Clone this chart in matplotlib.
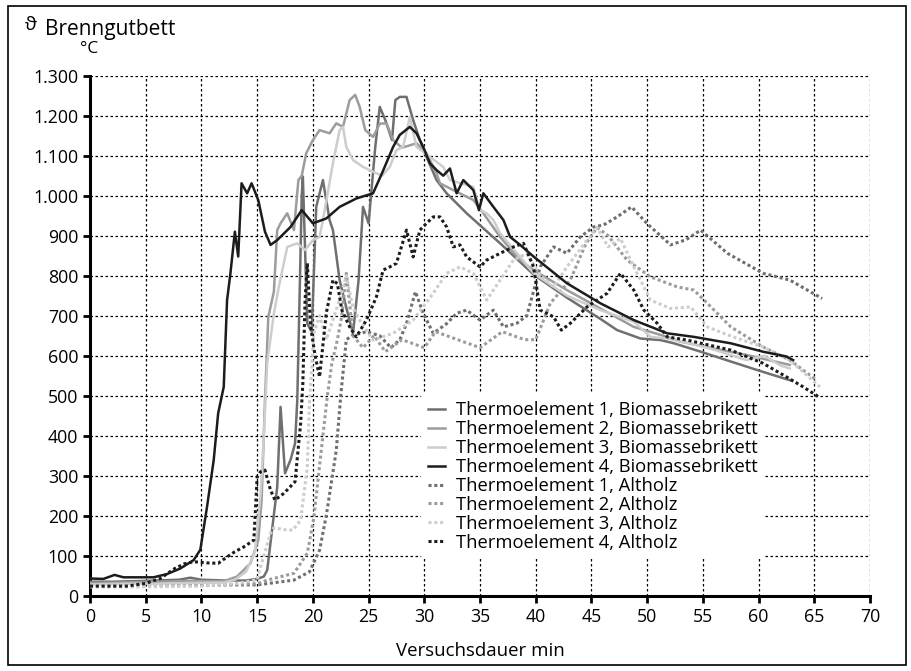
import matplotlib
matplotlib.use('Agg')
import matplotlib.pyplot as plt
from matplotlib.ticker import FuncFormatter, MultipleLocator
from matplotlib.patches import Rectangle

plt.rcParams['font.family'] = ['Open Sans', 'DejaVu Sans']

# Biomassebrikett (solid)
b1_t = [0, 2, 5, 8, 9, 10, 12, 14, 15, 15.6, 15.9, 16.3, 16.8, 17.1, 17.5, 18.0, 18.4, 18.6, 18.8,
        19.0, 19.1, 19.5, 19.9, 20.3, 20.9, 21.5, 21.8, 22.4, 23.0, 23.6, 24.1, 24.5, 25.0, 25.6,
        26.0, 26.5, 26.8, 27.1, 27.4, 27.8, 28.4, 29.0, 29.6, 30.2, 31.1, 32.0, 33.8, 36.8, 39.8,
        42.8, 45.8, 47.3, 49.4, 51.2, 52.4, 54.8, 57.0, 60.0, 63.0]
b1_v = [35, 35, 37, 40, 45, 40, 38, 38, 42, 48, 64, 156, 272, 472, 306, 340, 381, 489, 739,
        1000, 1048, 680, 660, 972, 1039, 939, 914, 789, 720, 656, 789, 972, 931, 1122,
        1222, 1189, 1164, 1139, 1239, 1247, 1247, 1189, 1139, 1097, 1039, 1006, 956, 881, 803,
        745, 692, 664, 643, 639, 631, 610, 590, 563, 537]

b2_t = [0, 3, 6, 9, 12, 13.2, 14.4, 15.1, 15.4, 15.7, 16.0, 16.5, 16.8, 17.1, 17.7, 18.3, 18.7,
        19.0, 19.4, 20.0, 20.6, 21.5, 22.1, 22.7, 23.3, 23.8, 24.2, 24.7, 25.4, 26.0, 26.6, 27.2,
        28.0, 29.3, 30.2, 31.1, 31.4, 32.6, 34.4, 35.3, 36.8, 38.6, 39.8, 42.8, 45.8, 48.8, 51.8,
        53.0, 56.0, 58.9, 62.8]
b2_v = [32, 33, 35, 37, 36, 48, 81, 139, 239, 489, 697, 760, 914, 931, 956, 914, 1039,
        1050, 1106, 1139, 1164, 1156, 1181, 1172, 1239, 1252, 1222, 1164, 1147, 1180, 1181, 1139,
        1120, 1131, 1106, 1056, 1031, 1014, 989, 956, 897, 839, 814, 764, 718, 672, 647,
        635, 618, 602, 577]

b3_t = [0, 3, 6, 9, 12, 13, 14, 14.8, 15.3, 15.6, 15.9, 16.5, 17.0, 17.7, 18.6, 19.3, 20.0, 20.6,
        20.9, 21.8, 22.4, 22.7, 23.0, 23.6, 24.5, 25.4, 26.2, 26.9, 27.5, 28.1, 28.7, 29.3, 30.5,
        31.7, 32.3, 34.4, 35.0, 35.6, 36.2, 36.8, 38.6, 39.8, 42.8, 45.8, 48.8, 50.3, 51.8, 54.0,
        56.0, 58.9, 60.5, 62.0, 62.8]
b3_v = [28, 30, 30, 32, 33, 40, 60, 110, 250, 400, 581, 706, 780, 872, 881, 864, 889, 897,
        939, 1081, 1164, 1172, 1122, 1089, 1072, 1060, 1050, 1072, 1114, 1122, 1197, 1122, 1097,
        1072, 1039, 1022, 964, 956, 939, 906, 847, 806, 750, 714, 685, 647, 643, 630,
        615, 589, 600, 575, 568]

b4_t = [0, 1.2, 2.2, 3.0, 5.7, 6.9, 8.1, 9.3, 9.9, 10.5, 11.1, 11.5, 12.0, 12.3, 12.6, 13.0, 13.3,
        13.6, 14.1, 14.5, 15.1, 15.7, 16.2, 16.8, 18.0, 19.0, 20.0, 21.2, 22.4, 23.9, 25.4, 26.2,
        27.2, 27.8, 28.7, 29.3, 29.9, 30.5, 31.1, 31.7, 32.3, 32.9, 33.5, 34.4, 34.9, 35.3, 36.2,
        37.1, 37.7, 38.6, 39.8, 42.8, 45.8, 48.8, 51.8, 54.2, 57.5, 60.4, 62.5, 63.1]
b4_v = [43, 42, 52, 46, 46, 54, 68, 89, 115, 222, 339, 456, 522, 739, 806, 910, 848,
        1031, 1006, 1031, 989, 910, 877, 889, 922, 964, 931, 943, 972, 993, 1006, 1056,
        1122, 1152, 1172, 1156, 1122, 1081, 1064, 1050, 1068, 1006, 1039, 1014, 964, 1006, 972,
        939, 897, 877, 848, 781, 731, 689, 656, 647, 631, 610, 598, 589]

# Altholz (dotted)
a1_t = [0, 5, 10, 15, 18.3, 19.7, 20.6, 21.2, 21.7, 22.1, 22.5, 23.0, 23.5, 24.8, 26.0, 27.0,
        27.8, 28.4, 29.2, 29.9, 30.8, 32.0, 32.9, 33.8, 35.0, 36.2, 37.1, 38.3, 39.2, 40.4, 41.6,
        42.8, 44.0, 45.2, 46.1, 47.3, 48.6, 50.0, 52.1, 53.5, 54.8, 57.2, 60.4, 62.8, 65.7]
a1_v = [28, 28, 27, 27, 39, 60, 114, 200, 290, 364, 500, 640, 650, 660, 650, 620,
        640, 680, 760, 706, 656, 680, 706, 714, 689, 714, 672, 681, 700, 822, 872,
        856, 897, 922, 927, 947, 972, 930, 877, 890, 914, 856, 806, 789, 743]

a2_t = [0, 5, 10, 15, 15.9, 18.3, 19.5, 20.1, 20.5, 20.9, 21.3, 21.7, 22.2, 22.6, 23.0, 23.6,
        24.5, 25.5, 26.5, 28.0, 30.0, 31.0, 33.0, 35.0, 37.0, 39.0, 40.0, 41.3, 43.1, 44.5, 45.5,
        46.5, 48.2, 50.3, 52.7, 54.2, 55.4, 57.5, 60.4, 62.8, 65.2]
a2_v = [25, 25, 26, 30, 39, 56, 106, 197, 300, 400, 500, 580, 640, 700, 806, 650,
        620, 650, 610, 640, 620, 660, 640, 620, 660, 640, 640, 731, 789, 880, 920,
        900, 839, 797, 772, 764, 731, 672, 622, 589, 539]

a3_t = [0, 5, 10, 13, 15, 15.3, 15.6, 16.2, 16.5, 17.5, 18.2, 18.9, 19.5, 19.7, 20.1, 20.6, 21.2,
        21.8, 22.4, 23.0, 23.6, 24.2, 25.4, 27.2, 29.0, 30.8, 32.0, 33.2, 34.4, 35.6, 36.8, 38.0,
        39.2, 40.4, 41.6, 42.8, 44.6, 45.5, 46.5, 47.6, 48.8, 50.3, 52.1, 53.9, 55.4, 57.7, 60.4,
        62.8, 65.5]
a3_v = [22, 22, 24, 30, 40, 72, 100, 156, 170, 165, 164, 189, 322, 489, 656, 700, 640,
        690, 740, 800, 720, 689, 639, 656, 689, 756, 806, 822, 806, 739, 789, 839,
        856, 800, 772, 822, 889, 920, 872, 893, 822, 739, 718, 722, 672, 647, 622,
        589, 522]

a4_t = [0, 3.3, 5.0, 6.3, 7.6, 8.5, 9.3, 10.5, 11.5, 12.3, 13.0, 13.8, 14.7, 15.0, 15.3, 15.7,
        16.2, 16.6, 17.4, 18.4, 18.9, 19.1, 19.3, 19.5, 19.8, 20.2, 20.6, 21.2, 21.8, 22.2, 22.6,
        23.3, 23.9, 24.8, 25.7, 26.3, 26.9, 27.5, 28.4, 29.0, 29.6, 30.2, 30.8, 31.4, 32.0, 32.6,
        33.2, 33.8, 35.0, 35.6, 36.8, 38.0, 38.9, 39.8, 40.4, 41.0, 41.6, 42.3, 43.1, 44.6, 46.4,
        47.6, 48.8, 49.7, 50.9, 51.8, 53.6, 57.5, 60.4, 62.5, 64.0, 65.4]
a4_v = [24, 24, 31, 43, 68, 80, 85, 82, 81, 97, 110, 122, 139, 297, 310, 314,
        264, 239, 256, 285, 431, 531, 739, 831, 672, 600, 547, 706, 789, 780, 714,
        672, 647, 689, 747, 814, 822, 831, 914, 847, 914, 931, 947, 947, 922, 872,
        877, 847, 822, 839, 856, 872, 881, 822, 714, 706, 697, 664, 681, 722, 756,
        806, 764, 714, 681, 647, 639, 614, 581, 547, 522, 497]

labels = ['Thermoelement 1, Biomassebrikett', 'Thermoelement 2, Biomassebrikett',
          'Thermoelement 3, Biomassebrikett', 'Thermoelement 4, Biomassebrikett',
          'Thermoelement 1, Altholz', 'Thermoelement 2, Altholz',
          'Thermoelement 3, Altholz', 'Thermoelement 4, Altholz']
greys = ['#6f6f6f', '#9c9c9c', '#cdcdcd', '#1c1c1c']

fig = plt.figure(figsize=(9.12, 6.71), dpi=100)
ax = fig.add_axes([0.0987, 0.1122, 0.8553, 0.775])

series = [(b1_t, b1_v), (b2_t, b2_v), (b3_t, b3_v), (b4_t, b4_v),
          (a1_t, a1_v), (a2_t, a2_v), (a3_t, a3_v), (a4_t, a4_v)]
for i, (t, v) in enumerate(series):
    c = greys[i % 4]
    if i < 4:
        ax.plot(t, v, color=c, lw=1.8, label=labels[i], zorder=3 + i)
    else:
        ax.plot(t, v, color=c, lw=2.2, ls=(0, (1, 0.9)), label=labels[i], zorder=3 + i - 4)

ax.set_xlim(0, 70)
ax.set_ylim(0, 1300)
ax.xaxis.set_major_locator(MultipleLocator(5))
ax.yaxis.set_major_locator(MultipleLocator(100))
ax.yaxis.set_major_formatter(FuncFormatter(lambda v, p: f'{v:,.0f}'.replace(',', '.')))
ax.grid(True, color='black', ls=(0, (2, 2)), lw=0.9)
ax.set_axisbelow(True)
for s in ['top', 'right']:
    ax.spines[s].set_visible(False)
for s in ['left', 'bottom']:
    ax.spines[s].set_linewidth(2.2)
ax.tick_params(axis='both', labelsize=12.8, width=2, length=5, direction='out')

ax.set_xlabel('Versuchsdauer min', fontsize=13.4, labelpad=12)

fig.text(0.034, 0.962, 'ϑ', fontsize=14, va='center', ha='center')
fig.text(0.049, 0.956, 'Brenngutbett', fontsize=15, va='center', ha='left')
fig.text(0.0877, 0.927, '°C', fontsize=12.5, va='center', ha='left')

leg = ax.legend(loc='upper left', bbox_to_anchor=(0.424, 0.388), fontsize=13.2,
                frameon=True, facecolor='white', edgecolor='none', framealpha=1,
                handlelength=0.95, handletextpad=0.55, labelspacing=0.05,
                borderpad=0.4, borderaxespad=0)
leg.set_zorder(20)

fig.patches.append(Rectangle((0.009, 0.009), 0.984, 0.982, transform=fig.transFigure,
                             fill=False, edgecolor='black', lw=1.2))

fig.savefig('out.png', dpi=100)
